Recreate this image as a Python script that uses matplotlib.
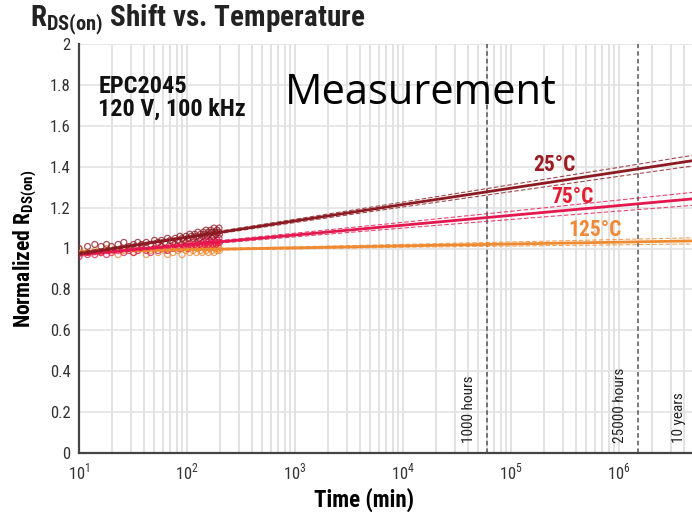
import matplotlib.pyplot as plt
from matplotlib import font_manager
import numpy as np

# measured points (time in minutes, normalized Rds(on))
t_meas = [10, 12, 14, 16, 18, 20, 23, 26, 29, 32, 35, 38, 42, 46, 50, 54, 58, 62, 66,
          70, 74, 78, 82, 86, 90, 94, 98, 102, 106, 110, 114, 118, 122, 126, 130, 134,
          138, 142, 146, 150, 154, 158, 162, 166, 170, 174, 178, 182, 186, 190, 194,
          198, 200]
r25 = [1.00, 1.01, 1.02, 1.01, 1.02, 1.01, 1.02, 1.03, 1.01, 1.02,
       1.03, 1.02, 1.03, 1.02, 1.04, 1.03, 1.04, 1.03, 1.05, 1.04,
       1.03, 1.05, 1.04, 1.06, 1.05, 1.04, 1.06, 1.05, 1.07, 1.06,
       1.05, 1.07, 1.06, 1.08, 1.05, 1.07, 1.06, 1.08, 1.07, 1.09,
       1.06, 1.08, 1.07, 1.09, 1.08, 1.06, 1.10, 1.08, 1.07, 1.09,
       1.08, 1.10, 1.07]
r75 = [0.96, 0.97, 0.97, 0.98, 0.97, 0.98, 0.99, 0.98, 0.99, 0.98,
       0.99, 1.00, 0.99, 0.98, 1.00, 0.99, 1.01, 1.00, 0.99, 1.01,
       1.00, 1.02, 1.01, 1.00, 1.02, 1.01, 1.03, 1.00, 1.02, 1.01,
       1.03, 1.02, 1.01, 1.03, 1.02, 1.04, 1.01, 1.03, 1.02, 1.04,
       1.03, 1.02, 1.04, 1.03, 1.05, 1.02, 1.04, 1.03, 1.02, 1.04,
       1.03, 1.05, 1.03]
r125 = [1.00, 0.98, 0.99, 0.98, 1.00, 0.99, 0.97, 0.99, 1.00, 0.98,
        0.99, 1.01, 0.97, 0.99, 1.00, 0.98, 1.01, 0.99, 0.97, 1.00,
        0.98, 1.01, 0.99, 1.00, 0.97, 1.02, 0.99, 1.00, 0.98, 1.01,
        0.99, 1.02, 0.98, 1.00, 1.01, 0.99, 0.98, 1.02, 1.00, 0.99,
        1.01, 0.98, 1.00, 1.02, 0.99, 1.01, 0.98, 1.00, 1.02, 0.99,
        1.01, 1.00, 0.99]

# log fits and their confidence bands, one value per decade
t_fit = [1e1, 1e2, 1e3, 1e4, 1e5, 1e6, 1e7]
fit25 = [0.975, 1.055, 1.135, 1.215, 1.295, 1.375, 1.455]
up25 = [0.983, 1.060, 1.143, 1.227, 1.312, 1.397, 1.483]
lo25 = [0.967, 1.050, 1.127, 1.203, 1.278, 1.353, 1.427]
fit75 = [0.970, 1.018, 1.066, 1.114, 1.162, 1.210, 1.258]
up75 = [0.978, 1.023, 1.075, 1.128, 1.182, 1.237, 1.292]
lo75 = [0.962, 1.013, 1.057, 1.100, 1.142, 1.183, 1.224]
fit125 = [0.985, 0.994, 1.003, 1.013, 1.022, 1.031, 1.040]
up125 = [0.991, 0.998, 1.008, 1.020, 1.032, 1.044, 1.056]
lo125 = [0.979, 0.990, 0.998, 1.006, 1.012, 1.018, 1.024]

markers_t = [60000, 1.5e6, 5.256e6]
markers_lbl = ['1000 hours', '25000 hours', '10 years']

c25 = '#8c1a22'
c75 = '#e4174f'
c125 = '#f08a30'

# pick the narrowest sans that is installed
installed = {f.name for f in font_manager.fontManager.ttflist}
narrow = next(n for n in ['Liberation Sans Narrow', 'DejaVu Sans Condensed',
                          'Roboto Condensed', 'Open Sans Condensed', 'Roboto',
                          'Liberation Sans', 'DejaVu Sans'] if n in installed)
plt.rcParams['font.family'] = [narrow, 'DejaVu Sans']
plt.rcParams['mathtext.fontset'] = 'custom'
plt.rcParams['mathtext.rm'] = narrow
plt.rcParams['mathtext.bf'] = narrow + ':bold'

fig = plt.figure(figsize=(6.92, 5.12), dpi=100)
ax = fig.add_axes([79/692, 59/512, 648/692, 409/512])

ax.set_xscale('log')
ax.set_xlim(10, 1e7)
ax.set_ylim(0, 2)

ax.grid(True, which='both', axis='x', color='#dddddd', lw=1.2)
ax.grid(True, which='major', axis='y', color='#e3e3e3', lw=1.2)
ax.set_axisbelow(True)

for t, r, c in [(t_meas, r125, c125), (t_meas, r75, c75), (t_meas, r25, c25)]:
    ax.scatter(t, r, s=18, facecolors='none', edgecolors=c, lw=0.9, alpha=0.75, zorder=3)

for fit, up, lo, c in [(fit125, up125, lo125, c125), (fit75, up75, lo75, c75),
                       (fit25, up25, lo25, c25)]:
    ax.plot(t_fit, fit, color=c, lw=2, zorder=4)
    ax.plot(t_fit, up, color=c, lw=0.8, ls=(0, (4, 2)), alpha=0.8, zorder=4)
    ax.plot(t_fit, lo, color=c, lw=0.8, ls=(0, (4, 2)), alpha=0.8, zorder=4)

for t, lbl in zip(markers_t, markers_lbl):
    ax.axvline(t, color='#555555', lw=1.1, ls=(0, (3, 2)), zorder=2)
    ax.text(t / 1.26, 0.05, lbl, rotation=90, ha='right', va='bottom',
            fontsize=11, color='#222222')

ax.text(2.5e5, 1.408, '25°C', color='#9b1c24', fontsize=15.5, fontweight='bold',
        ha='center', va='center')
ax.text(3.67e5, 1.252, '75°C', color='#e51d32', fontsize=15.5, fontweight='bold',
        ha='center', va='center')
ax.text(6.0e5, 1.09, '125°C', color='#ee8a38', fontsize=15.5, fontweight='bold',
        ha='center', va='center')

ax.text(0.03, 0.925, 'EPC2045\n120 V, 100 kHz', transform=ax.transAxes,
        fontsize=17.5, fontweight='bold', va='top', linespacing=1.0, color='#111111')
ax.text(0.318, 0.932, 'Measurement', transform=ax.transAxes, fontsize=30,
        family=['Open Sans', 'DejaVu Sans'], va='top', color='black')

ax.set_yticks(np.arange(0, 2.01, 0.2))
ax.set_yticklabels(['0', '0.2', '0.4', '0.6', '0.8', '1', '1.2', '1.4', '1.6', '1.8', '2'])
ax.set_xticks([1e1, 1e2, 1e3, 1e4, 1e5, 1e6])
ax.set_xticklabels([r'$10^{%d}$' % k for k in range(1, 7)])
ax.tick_params(axis='both', which='both', length=0, labelsize=12, colors='#333333', pad=6)

for s in ['top', 'right']:
    ax.spines[s].set_visible(False)
for s in ['left', 'bottom']:
    ax.spines[s].set_color('#444444')
    ax.spines[s].set_linewidth(1.6)

ax.set_xlabel('Time (min)', fontsize=16.5, fontweight='bold')
ax.xaxis.set_label_coords(0.44, -0.085)
ax.set_ylabel(r'Normalized R$_{\mathbf{DS(on)}}$', fontsize=15.5, fontweight='bold')
ax.yaxis.set_label_coords(-0.062, 0.5)

fig.text(30/692, 1 - 26/512, r'R$_{\mathbf{DS(on)}}$ Shift vs. Temperature',
         fontsize=21, fontweight='bold', color='#222222', va='baseline')

fig.savefig('out.png', dpi=100)
